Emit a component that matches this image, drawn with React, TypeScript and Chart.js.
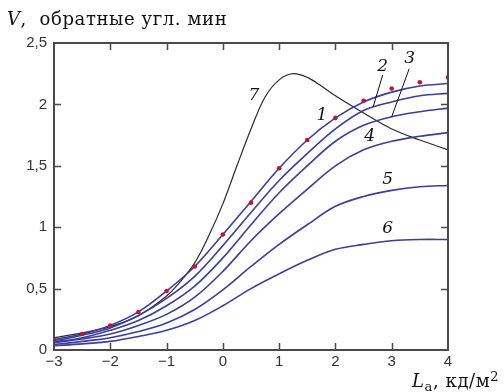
import React, { useEffect, useRef } from "react";
import { Chart, registerables } from "chart.js";

Chart.register(...registerables);

// ---- data ----
const xValues = [-3, -2.5, -2, -1.5, -1, -0.5, 0, 0.5, 1, 1.5, 2, 2.5, 3, 3.5, 4];
const curve1 = [0.085, 0.13, 0.2, 0.31, 0.48, 0.68, 0.94, 1.21, 1.48, 1.71, 1.89, 2.02, 2.1, 2.15, 2.17];
const dots1 = [0.09, 0.13, 0.2, 0.31, 0.48, 0.68, 0.94, 1.2, 1.48, 1.71, 1.89, 2.03, 2.13, 2.18, 2.22];
const curve2 = [0.075, 0.12, 0.18, 0.28, 0.42, 0.6, 0.85, 1.12, 1.38, 1.6, 1.8, 1.95, 2.02, 2.07, 2.09];
const curve3 = [0.065, 0.1, 0.16, 0.24, 0.36, 0.52, 0.75, 1.02, 1.28, 1.5, 1.7, 1.83, 1.9, 1.94, 1.97];
const curve4 = [0.06, 0.09, 0.13, 0.2, 0.29, 0.43, 0.64, 0.89, 1.11, 1.31, 1.5, 1.63, 1.7, 1.74, 1.77];
const curve5 = [0.045, 0.07, 0.1, 0.15, 0.22, 0.33, 0.49, 0.68, 0.86, 1.02, 1.17, 1.25, 1.3, 1.33, 1.34];
const curve6 = [0.035, 0.05, 0.07, 0.11, 0.16, 0.24, 0.36, 0.5, 0.62, 0.73, 0.82, 0.86, 0.89, 0.9, 0.9];

const xValues7 = [-3, -2.5, -2, -1.5, -1, -0.75, -0.5, -0.25, 0, 0.25, 0.5, 0.75, 1, 1.25, 1.5, 1.75, 2, 2.5, 3, 3.5, 4];
const curve7 = [0.1, 0.14, 0.19, 0.28, 0.44, 0.56, 0.71, 0.93, 1.19, 1.5, 1.8, 2.06, 2.2, 2.25, 2.22, 2.15, 2.07, 1.93, 1.8, 1.71, 1.63];

const xTickValues = [-3, -2, -1, 0, 1, 2, 3, 4];
const yTickValues = [0, 0.5, 1, 1.5, 2, 2.5];

// curve labels (data coordinates)
const labelTexts = ["1", "2", "3", "4", "5", "6", "7"];
const labelX = [1.76, 2.84, 3.32, 2.61, 2.93, 2.93, 0.55];
const labelY = [1.91, 2.31, 2.37, 1.74, 1.39, 0.985, 2.07];

// leader lines for labels 2 and 3 (data coordinates)
const leaderFromX = [2.84, 3.31];
const leaderFromY = [2.24, 2.29];
const leaderToX = [2.67, 3.0];
const leaderToY = [1.98, 1.9];

const Y_TITLE_V = "V";
const Y_TITLE_REST = ",  обратные угл. мин";
const X_TITLE_L = "L";
const X_TITLE_SUB = "а";
const X_TITLE_REST = ", кд/м";
const X_TITLE_SUP = "2";

const toPts = (xs: number[], ys: number[]) => xs.map((x, i) => ({ x, y: ys[i] }));

const BLUE = "#3d3d9c";

const overlayPlugin = {
  id: "overlay",
  afterDraw(chart: any) {
    const { ctx, chartArea: a, scales } = chart;
    const xs = scales.x;
    const ys = scales.y;
    ctx.save();
    // frame
    ctx.strokeStyle = "#4a4a4a";
    ctx.lineWidth = 2;
    ctx.strokeRect(a.left, a.top, a.right - a.left, a.bottom - a.top);
    // inward ticks
    ctx.lineWidth = 1.5;
    const TL = 7;
    xTickValues.forEach((v) => {
      if (v === xTickValues[0] || v === xTickValues[xTickValues.length - 1]) return;
      const px = Math.round(xs.getPixelForValue(v)) + 0.5;
      ctx.beginPath();
      ctx.moveTo(px, a.bottom);
      ctx.lineTo(px, a.bottom - TL);
      ctx.moveTo(px, a.top);
      ctx.lineTo(px, a.top + TL);
      ctx.stroke();
    });
    yTickValues.forEach((v) => {
      if (v === yTickValues[0] || v === yTickValues[yTickValues.length - 1]) return;
      const py = Math.round(ys.getPixelForValue(v)) + 0.5;
      ctx.beginPath();
      ctx.moveTo(a.left, py);
      ctx.lineTo(a.left + TL, py);
      ctx.moveTo(a.right, py);
      ctx.lineTo(a.right - TL, py);
      ctx.stroke();
    });
    // leader lines
    ctx.strokeStyle = "#111";
    ctx.lineWidth = 1;
    leaderFromX.forEach((_, i) => {
      ctx.beginPath();
      ctx.moveTo(xs.getPixelForValue(leaderFromX[i]), ys.getPixelForValue(leaderFromY[i]));
      ctx.lineTo(xs.getPixelForValue(leaderToX[i]), ys.getPixelForValue(leaderToY[i]));
      ctx.stroke();
    });
    // curve labels
    ctx.fillStyle = "#111";
    ctx.font = 'italic 17px "DejaVu Serif"';
    ctx.textAlign = "center";
    ctx.textBaseline = "middle";
    labelTexts.forEach((t, i) => {
      ctx.fillText(t, xs.getPixelForValue(labelX[i]), ys.getPixelForValue(labelY[i]));
    });
    // y title
    ctx.textAlign = "left";
    ctx.textBaseline = "alphabetic";
    try {
      (ctx as any).letterSpacing = "0.6px";
    } catch (e) {}
    ctx.font = 'italic 18px "DejaVu Serif"';
    let tx = 7;
    ctx.fillText(Y_TITLE_V, tx, 25);
    tx += ctx.measureText(Y_TITLE_V).width;
    ctx.font = '18px "DejaVu Serif"';
    ctx.fillText(Y_TITLE_REST, tx, 25);
    // x title
    let bx = 412;
    ctx.font = 'italic 18px "DejaVu Serif"';
    ctx.fillText(X_TITLE_L, bx, 387);
    bx += ctx.measureText(X_TITLE_L).width;
    ctx.font = '13px "DejaVu Serif"';
    ctx.fillText(X_TITLE_SUB, bx, 391);
    bx += ctx.measureText(X_TITLE_SUB).width;
    ctx.font = '18px "DejaVu Serif"';
    ctx.fillText(X_TITLE_REST, bx, 387);
    bx += ctx.measureText(X_TITLE_REST).width;
    ctx.font = '13px "DejaVu Serif"';
    ctx.fillText(X_TITLE_SUP, bx, 381);
    ctx.restore();
  },
};

export default function App() {
  const ref = useRef<HTMLCanvasElement | null>(null);
  useEffect(() => {
    if (!ref.current) return;
    const lineDs = (data: number[], xs: number[], color: string, width: number) => ({
      data: toPts(xs, data),
      showLine: true,
      borderColor: color,
      borderWidth: width,
      pointRadius: 0,
      tension: 0.35,
      fill: false,
      order: 2,
    });
    const chart = new Chart(ref.current, {
      type: "scatter",
      data: {
        datasets: [
          lineDs(curve6, xValues, BLUE, 1.6),
          lineDs(curve5, xValues, BLUE, 1.6),
          lineDs(curve4, xValues, BLUE, 1.6),
          lineDs(curve3, xValues, BLUE, 1.6),
          lineDs(curve2, xValues, BLUE, 1.6),
          lineDs(curve1, xValues, BLUE, 1.6),
          lineDs(curve7, xValues7, "#2b2b2b", 1.2),
          {
            data: toPts(xValues, dots1),
            showLine: false,
            pointRadius: 2.3,
            pointBackgroundColor: "#c41230",
            pointBorderWidth: 0,
            order: 1,
          } as any,
        ],
      },
      options: {
        responsive: false,
        animation: false,
        layout: { padding: { left: 0, top: 43, right: 56, bottom: 0 } },
        plugins: { legend: { display: false }, tooltip: { enabled: false } },
        scales: {
          x: {
            type: "linear",
            min: -3,
            max: 4,
            afterFit: (s: any) => {
              s.height = 42;
            },
            afterBuildTicks: (s: any) => {
              s.ticks = xTickValues.map((v) => ({ value: v }));
            },
            grid: { display: false, drawTicks: false },
            border: { display: false },
            ticks: {
              padding: 3,
              color: "#333",
              font: { family: "Liberation Sans", size: 15 },
              callback: (v: any) => String(v).replace("-", "\u2212"),
            },
          },
          y: {
            type: "linear",
            min: 0,
            max: 2.5,
            afterFit: (s: any) => {
              s.width = 54;
            },
            afterBuildTicks: (s: any) => {
              s.ticks = yTickValues.map((v) => ({ value: v }));
            },
            grid: { display: false, drawTicks: false },
            border: { display: false },
            ticks: {
              padding: 7,
              color: "#333",
              font: { family: "Liberation Sans", size: 15 },
              callback: (v: any) => String(v).replace(".", ","),
            },
          },
        },
      },
      plugins: [overlayPlugin],
    });
    return () => chart.destroy();
  }, []);
  return (
    <div style={{ position: "fixed", left: 0, top: 0, width: 504, height: 392, background: "#fff" }}>
      <canvas ref={ref} width={504} height={392} />
    </div>
  );
}
